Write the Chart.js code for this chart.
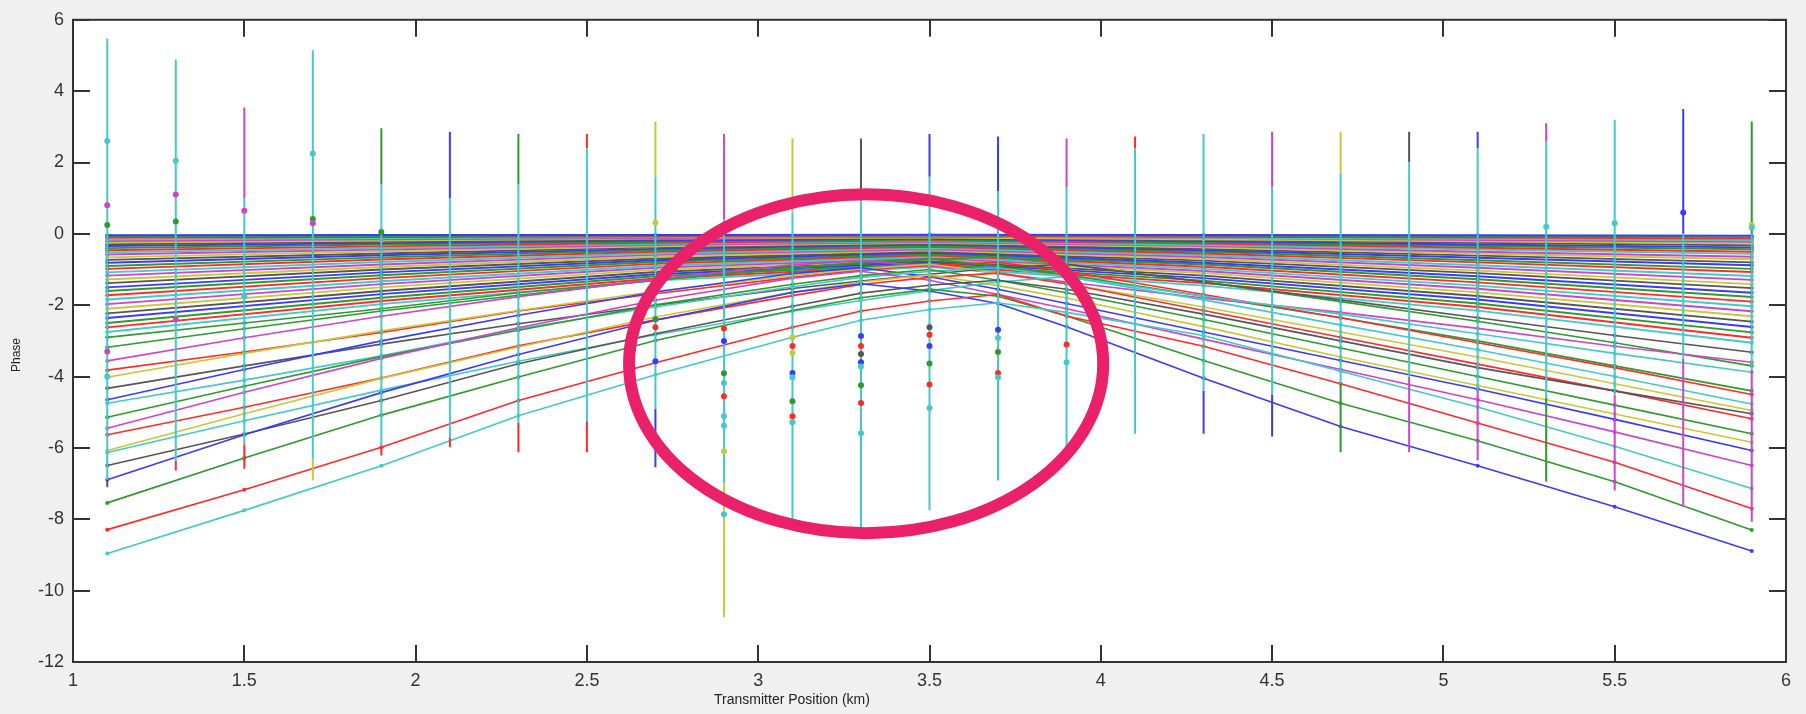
<!DOCTYPE html>
<html lang="en">
<head>
<meta charset="UTF-8">
<title>Phase vs Transmitter Position</title>
<script src="https://cdn.jsdelivr.net/npm/chart.js"></script>
<style>
  body { margin: 0; background: #f0f0f0; }
  canvas { display: block; }
</style>
</head>
<body>
<canvas id="phaseChart" width="1806" height="714"></canvas>
<script>
// transmitter positions (km) where the error bars sit
const positions = [1.1, 1.3, 1.5, 1.7, 1.9, 2.1, 2.3, 2.5, 2.7, 2.9, 3.1, 3.3, 3.5, 3.7, 3.9, 4.1, 4.3, 4.5, 4.7, 4.9, 5.1, 5.3, 5.5, 5.7, 5.9];

// knots read for the deeper curves
const lowerKnots = [1.1, 1.5, 1.9, 2.3, 2.7, 3.1, 3.3, 3.5, 3.7, 3.9, 4.3, 4.7, 5.1, 5.5, 5.9];
const lowerCurves = [
  [-8.96, -7.75, -6.5, -5.1, -3.95, -2.9, -2.42, -2.12, -1.93, -2.2, -2.85, -3.85, -4.85, -5.95, -7.14],
  [-8.29, -7.17, -5.98, -4.67, -3.61, -2.62, -2.16, -1.88, -1.7, -2.3, -3.15, -4.2, -5.3, -6.4, -7.7],
  [-7.54, -6.28, -5.08, -4.01, -2.99, -2.15, -1.79, -1.55, -1.75, -2.3, -3.55, -4.75, -5.8, -6.95, -8.3],
  [-6.89, -5.63, -4.45, -3.38, -2.42, -1.64, -1.4, -1.6, -1.95, -2.6, -4.05, -5.4, -6.5, -7.65, -8.89],
  [-6.49, -5.61, -4.67, -3.64, -2.8, -2.03, -1.66, -1.44, -1.3, -1.55, -2.25, -3.0, -3.75, -4.4, -5.04],
  [-6.13, -5.24, -4.38, -3.57, -2.83, -2.17, -1.87, -1.59, -1.35, -1.2, -1.85, -2.55, -3.25, -4.0, -4.77],
  [-6.07, -5.04, -4.05, -3.17, -2.33, -1.64, -1.35, -1.15, -1.45, -1.8, -2.6, -3.45, -4.25, -5.05, -5.84],
  [-5.63, -4.86, -4.04, -3.14, -2.41, -1.73, -1.42, -1.22, -1.1, -1.4, -2.15, -2.9, -3.65, -4.4, -5.18],
  [-5.45, -4.44, -3.49, -2.63, -1.86, -1.24, -1.05, -1.3, -1.7, -2.1, -2.95, -3.8, -4.65, -5.55, -6.49],
  [-5.14, -4.27, -3.44, -2.7, -1.99, -1.41, -1.17, -1.0, -1.3, -1.65, -2.4, -3.2, -4.0, -4.8, -5.6],
  [-4.75, -4.1, -3.42, -2.66, -2.05, -1.48, -1.22, -1.05, -0.95, -1.2, -1.75, -2.25, -2.8, -3.35, -3.88],
  [-4.65, -3.8, -3.0, -2.28, -1.63, -1.11, -0.95, -1.2, -1.55, -1.95, -2.75, -3.55, -4.35, -5.2, -6.07],
  [-4.33, -3.7, -3.09, -2.52, -2.0, -1.53, -1.32, -1.13, -0.95, -0.85, -1.35, -1.85, -2.35, -2.85, -3.32],
  [-4.02, -3.35, -2.72, -2.15, -1.61, -1.17, -0.98, -0.85, -1.1, -1.4, -2.05, -2.75, -3.45, -4.2, -4.95],
  [-3.82, -3.31, -2.76, -2.16, -1.68, -1.22, -1.01, -0.88, -0.8, -1.05, -1.7, -2.35, -3.05, -3.75, -4.5],
  [-3.56, -2.91, -2.31, -1.76, -1.27, -0.87, -0.75, -0.9, -1.1, -1.35, -1.8, -2.2, -2.65, -3.15, -3.6],
  [-3.18, -2.66, -2.16, -1.72, -1.3, -0.95, -0.8, -0.7, -0.9, -1.15, -1.75, -2.35, -3.0, -3.7, -4.4],
  [-2.9, -2.5, -2.1, -1.65, -1.3, -0.95, -0.82, -0.72, -0.65, -0.85, -1.35, -1.9, -2.45, -3.05, -3.7]
];
const lowerColorKeys = ['c', 'r', 'g', 'b', 'k', 'c', 'y', 'r', 'm', 'g', 'c', 'b', 'k', 'y', 'r', 'm', 'g', 'g'];

// the dense band of shallow curves near zero
const bandKnots = [1.1, 1.9, 2.7, 3.5, 4.3, 5.1, 5.9];
const bandCurves = [
  [-0.04, -0.03, -0.03, -0.02, -0.03, -0.04, -0.05],
  [-0.08, -0.06, -0.05, -0.04, -0.05, -0.07, -0.09],
  [-0.11, -0.09, -0.07, -0.05, -0.08, -0.1, -0.13],
  [-0.16, -0.12, -0.09, -0.07, -0.1, -0.14, -0.18],
  [-0.2, -0.15, -0.12, -0.08, -0.11, -0.17, -0.22],
  [-0.24, -0.19, -0.13, -0.1, -0.15, -0.21, -0.27],
  [-0.29, -0.22, -0.16, -0.12, -0.17, -0.25, -0.32],
  [-0.34, -0.26, -0.19, -0.14, -0.21, -0.3, -0.38],
  [-0.4, -0.3, -0.22, -0.16, -0.24, -0.34, -0.43],
  [-0.46, -0.35, -0.25, -0.18, -0.27, -0.39, -0.5],
  [-0.52, -0.4, -0.28, -0.2, -0.31, -0.44, -0.56],
  [-0.58, -0.44, -0.31, -0.23, -0.34, -0.5, -0.64],
  [-0.66, -0.49, -0.35, -0.25, -0.38, -0.55, -0.71],
  [-0.73, -0.55, -0.38, -0.28, -0.42, -0.61, -0.8],
  [-0.81, -0.6, -0.42, -0.3, -0.46, -0.67, -0.88],
  [-0.9, -0.66, -0.46, -0.34, -0.5, -0.74, -0.98],
  [-0.98, -0.72, -0.5, -0.36, -0.55, -0.8, -1.07],
  [-1.08, -0.79, -0.55, -0.4, -0.6, -0.88, -1.18],
  [-1.17, -0.86, -0.59, -0.43, -0.65, -0.95, -1.29],
  [-1.28, -0.93, -0.64, -0.46, -0.7, -1.03, -1.41],
  [-1.38, -1.0, -0.69, -0.5, -0.75, -1.1, -1.52],
  [-1.5, -1.08, -0.74, -0.53, -0.81, -1.19, -1.65],
  [-1.6, -1.16, -0.79, -0.57, -0.86, -1.27, -1.77],
  [-1.72, -1.24, -0.84, -0.6, -0.92, -1.36, -1.9],
  [-1.84, -1.33, -0.9, -0.64, -0.98, -1.45, -2.03],
  [-1.97, -1.41, -0.95, -0.68, -1.04, -1.54, -2.17],
  [-2.1, -1.5, -1.01, -0.72, -1.1, -1.64, -2.31],
  [-2.23, -1.6, -1.07, -0.76, -1.17, -1.74, -2.46],
  [-2.36, -1.69, -1.13, -0.8, -1.24, -1.84, -2.61],
  [-2.5, -1.79, -1.19, -0.84, -1.31, -1.95, -2.76],
  [-2.62, -1.88, -1.25, -0.88, -1.38, -2.05, -2.91],
  [-2.75, -1.97, -1.31, -0.93, -1.45, -2.15, -3.05]
];

// error bar extents at each position
const errTop = [5.47, 4.89, 3.54, 5.15, 2.96, 2.86, 2.8, 2.8, 3.15, 2.8, 2.67, 2.67, 2.8, 2.73, 2.67, 2.73, 2.8, 2.86, 2.86, 2.86, 2.86, 3.1, 3.2, 3.5, 3.15];
const errBottom = [-7.1, -6.63, -6.58, -6.91, -6.21, -5.98, -6.12, -6.12, -6.54, -10.74, -8.23, -8.4, -7.75, -6.91, -5.98, -5.6, -5.6, -5.68, -6.12, -6.12, -6.35, -6.95, -7.19, -7.65, -8.07];
const cyanTop = [5.47, 4.89, 1.0, 5.15, 1.4, 1.0, 1.4, 2.4, 1.6, 0.4, 0.6, 1.2, 1.6, 1.2, 1.3, 2.4, 2.8, 1.3, 1.7, 2.0, 2.4, 2.6, 3.2, 0, 0];
const cyanBottom = [-6.9, -6.35, -5.9, -6.3, -5.95, -5.7, -5.3, -5.25, -4.9, -7.0, -8.23, -8.4, -7.75, -6.91, -5.98, -5.6, -4.4, -4.5, -4.2, -4.0, -4.4, -4.6, -4.5, -3.5, -3.8];
const topTipKeys = ['c', 'c', 'm', 'c', 'g', 'b', 'g', 'r', 'y', 'm', 'y', 'k', 'b', 'b', 'm', 'r', 'c', 'm', 'y', 'k', 'b', 'm', 'c', 'b', 'g'];
const bottomTipKeys = ['k', 'r', 'r', 'y', 'r', 'r', 'r', 'r', 'b', 'y', 'c', 'c', 'c', 'c', 'c', 'c', 'b', 'b', 'g', 'm', 'm', 'g', 'm', 'm', 'm'];

// measured points that sit off the curves
const cyanMarkers = [[1.1, 2.6], [1.3, 2.05], [1.7, 2.25], [5.3, 0.2], [5.5, 0.3], [5.9, 0.18], [2.9, -4.18], [2.9, -5.11], [2.9, -5.37], [2.9, -7.86], [3.1, -4.02], [3.1, -5.28], [3.3, -3.72], [3.3, -5.59], [3.5, -4.88], [3.7, -2.92], [3.7, -4.02], [3.9, -3.6], [1.1, -4.0], [1.5, -1.75]];
const magentaMarkers = [[1.1, 0.8], [1.3, 1.1], [1.5, 0.65], [1.7, 0.3], [1.1, -3.3], [1.3, -2.4]];
const greenMarkers = [[1.1, 0.25], [1.3, 0.35], [1.7, 0.42], [1.9, 0.05], [2.9, -3.91], [3.1, -4.69], [3.3, -4.24], [3.5, -3.63], [3.7, -3.31], [2.7, -2.39]];
const redMarkers = [[2.7, -2.62], [2.9, -2.65], [2.9, -4.55], [3.1, -3.14], [3.1, -5.11], [3.3, -3.14], [3.3, -4.74], [3.5, -2.83], [3.5, -4.22], [3.7, -3.9], [3.9, -3.1]];
const blueMarkers = [[5.7, 0.6], [2.7, -3.57], [2.9, -3.0], [3.1, -3.9], [3.3, -2.86], [3.3, -3.6], [3.5, -3.14], [3.7, -2.69]];
const yellowMarkers = [[2.7, 0.31], [5.9, 0.25], [2.9, -6.09], [3.1, -3.34], [3.1, -2.9]];
const grayMarkers = [[3.3, -3.37], [3.5, -2.62]];

// hand-drawn highlight, in data units
const ellipseCenter = [3.315, -3.64];
const ellipseRadius = [0.692, 4.75];

const palette = { b: '#3a3aff', g: '#2e9a2e', r: '#ff2a2a', c: '#45c8c8', m: '#cc44cc', y: '#c8c83a', k: '#555555' };
const cycle = ['b', 'g', 'r', 'c', 'm', 'y', 'k'];

function curveData(knots, vals) {
  return knots.map((x, i) => ({ x: x, y: vals[i] }));
}

function barData(lo, hi) {
  const d = [];
  positions.forEach((x, i) => {
    d.push({ x: x, y: lo[i] }, { x: x, y: hi[i] }, { x: x, y: null });
  });
  return d;
}

function markerSet(pts, key) {
  return {
    data: pts.map(p => ({ x: p[0], y: p[1] })),
    showLine: false,
    pointRadius: 3,
    pointBorderWidth: 0,
    pointBackgroundColor: palette[key],
    borderColor: palette[key],
    order: 0
  };
}

const datasets = [];

bandCurves.forEach((vals, i) => {
  const col = palette[cycle[i % 7]];
  datasets.push({
    data: curveData(bandKnots, vals),
    borderColor: col, backgroundColor: col, pointBackgroundColor: col,
    borderWidth: 1.9, pointRadius: 2, pointBorderWidth: 0, order: 4
  });
});

lowerCurves.forEach((vals, i) => {
  const col = palette[lowerColorKeys[i]];
  datasets.push({
    data: curveData(lowerKnots, vals),
    borderColor: col, backgroundColor: col, pointBackgroundColor: col,
    borderWidth: 1.6, pointRadius: 2, pointBorderWidth: 0, order: 3
  });
});

datasets.push({
  data: barData(cyanTop, errTop),
  borderColor: palette.c, borderWidth: 2, pointRadius: 0, spanGaps: false, order: 2,
  segment: { borderColor: ctx => palette[topTipKeys[Math.floor(ctx.p0DataIndex / 3)]] }
});
datasets.push({
  data: barData(errBottom, cyanBottom),
  borderColor: palette.c, borderWidth: 2, pointRadius: 0, spanGaps: false, order: 2,
  segment: { borderColor: ctx => palette[bottomTipKeys[Math.floor(ctx.p0DataIndex / 3)]] }
});
datasets.push({
  data: barData(cyanBottom, cyanTop),
  borderColor: palette.c, borderWidth: 2, pointRadius: 0, spanGaps: false, order: 1
});

datasets.push(markerSet(cyanMarkers, 'c'));
datasets.push(markerSet(magentaMarkers, 'm'));
datasets.push(markerSet(greenMarkers, 'g'));
datasets.push(markerSet(redMarkers, 'r'));
datasets.push(markerSet(blueMarkers, 'b'));
datasets.push(markerSet(yellowMarkers, 'y'));
datasets.push(markerSet(grayMarkers, 'k'));

const frameColor = '#333333';
const tickLen = 17;

const framePlugin = {
  id: 'matlabFrame',
  beforeDraw(chart) {
    const { ctx, chartArea: a } = chart;
    ctx.save();
    ctx.fillStyle = '#f0f0f0';
    ctx.fillRect(0, 0, chart.width, chart.height);
    ctx.fillStyle = '#ffffff';
    ctx.fillRect(a.left, a.top, a.right - a.left, a.bottom - a.top);
    ctx.restore();
  },
  afterDatasetsDraw(chart) {
    const { ctx, scales: { x, y } } = chart;
    const cx = x.getPixelForValue(ellipseCenter[0]);
    const cy = y.getPixelForValue(ellipseCenter[1]);
    const rx = x.getPixelForValue(ellipseCenter[0] + ellipseRadius[0]) - cx;
    const ry = cy - y.getPixelForValue(ellipseCenter[1] + ellipseRadius[1]);
    ctx.save();
    ctx.strokeStyle = '#ea2169';
    ctx.lineWidth = 12;
    ctx.beginPath();
    ctx.ellipse(cx, cy, rx, ry, 0, 0, Math.PI * 2);
    ctx.stroke();
    ctx.restore();
  },
  afterDraw(chart) {
    const { ctx, chartArea: a, scales: { x, y } } = chart;
    ctx.save();
    ctx.strokeStyle = frameColor;
    ctx.lineWidth = 2;
    ctx.beginPath();
    x.ticks.forEach(t => {
      const px = Math.round(x.getPixelForValue(t.value));
      ctx.moveTo(px, a.bottom); ctx.lineTo(px, a.bottom - tickLen);
      ctx.moveTo(px, a.top); ctx.lineTo(px, a.top + tickLen);
    });
    y.ticks.forEach(t => {
      const py = Math.round(y.getPixelForValue(t.value));
      ctx.moveTo(a.left, py); ctx.lineTo(a.left + tickLen, py);
      ctx.moveTo(a.right, py); ctx.lineTo(a.right - tickLen, py);
    });
    ctx.stroke();
    ctx.strokeRect(a.left, a.top, a.right - a.left, a.bottom - a.top);

    ctx.fillStyle = '#222222';
    ctx.textAlign = 'center';
    ctx.textBaseline = 'middle';
    ctx.font = '14px "Liberation Sans Narrow", "Liberation Sans", sans-serif';
    ctx.fillText('Transmitter Position (km)', 792, 700);
    ctx.translate(17, 355);
    ctx.rotate(-Math.PI / 2);
    ctx.font = '12px "Liberation Sans", sans-serif';
    ctx.fillText('Phase', 0, 0);
    ctx.restore();
  }
};

new Chart(document.getElementById('phaseChart'), {
  type: 'line',
  data: { datasets: datasets },
  options: {
    responsive: false,
    animation: false,
    events: [],
    layout: { padding: { top: 18, right: 20, left: 0, bottom: 0 } },
    elements: { line: { tension: 0 } },
    plugins: { legend: { display: false }, tooltip: { enabled: false } },
    scales: {
      x: {
        type: 'linear', min: 1, max: 6,
        grid: { display: false, drawTicks: false },
        border: { display: false },
        ticks: {
          stepSize: 0.5, padding: 8, color: '#333',
          font: { family: 'Liberation Sans', size: 18 },
          callback: v => String(Math.round(v * 10) / 10)
        },
        afterFit: s => { s.height = 52; }
      },
      y: {
        type: 'linear', min: -12, max: 6,
        grid: { display: false, drawTicks: false },
        border: { display: false },
        ticks: { stepSize: 2, padding: 9, color: '#333', font: { family: 'Liberation Sans', size: 18 } },
        afterFit: s => { s.width = 73; }
      }
    }
  },
  plugins: [framePlugin]
});
</script>
</body>
</html>
